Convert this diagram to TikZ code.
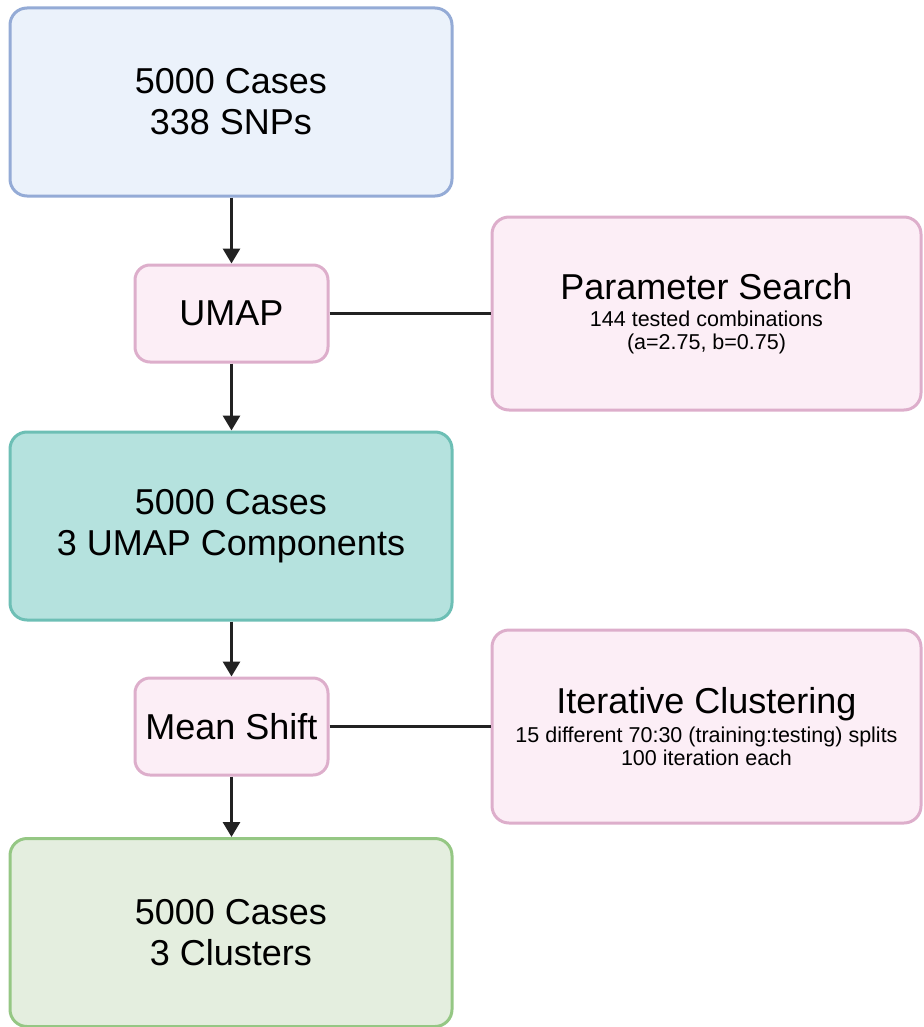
\documentclass[tikz,border=0pt]{standalone}
\usepackage{fontspec}
\setmainfont{Liberation Sans}
\usetikzlibrary{arrows.meta}
\definecolor{blueFill}{HTML}{EBF2FB}
\definecolor{blueLine}{HTML}{94ABD6}
\definecolor{pinkFill}{HTML}{FCEEF6}
\definecolor{pinkLine}{HTML}{DDAECB}
\definecolor{tealFill}{HTML}{B5E2DE}
\definecolor{tealLine}{HTML}{6DBFB5}
\definecolor{greenFill}{HTML}{E4EEDF}
\definecolor{greenLine}{HTML}{95C784}
\definecolor{wire}{HTML}{222222}
\newcommand{\boxtitle}[1]{{\fontsize{36}{36}\selectfont #1}}
\tikzset{
  box/.style={draw, line width=3pt, rounded corners=17pt, inner sep=0pt,
    align=center, font=\fontsize{36}{41}\selectfont},
  mainbox/.style={box, minimum width=442pt, minimum height=188pt},
  opbox/.style={box, fill=pinkFill, draw=pinkLine, minimum width=193pt, minimum height=97pt, rounded corners=15pt},
  sidebox/.style={box, fill=pinkFill, draw=pinkLine, minimum width=429pt, minimum height=193pt,
    font=\fontsize{21.5}{22.5}\selectfont},
  flow/.style={draw=wire, line width=3pt, -{Triangle[length=15pt,width=17pt]}},
  link/.style={draw=wire, line width=2.4pt}
}
\begin{document}
\begin{tikzpicture}[x=1pt,y=-1pt]
  \useasboundingbox (0,0) rectangle (923,1027);
  \node[mainbox, fill=blueFill, draw=blueLine] (in) at (231,102) {5000 Cases\\338 SNPs};
  \node[opbox] (umap) at (231.5,313.5) {UMAP};
  \node[sidebox] (ps) at (706.5,313.5) {\boxtitle{Parameter Search}\\[5pt]
    144 tested combinations\\(a=2.75, b=0.75)};
  \node[mainbox, fill=tealFill, draw=tealLine] (emb) at (231,526) {5000 Cases\\3 UMAP Components};
  \node[opbox] (ms) at (231.5,726.5) {Mean Shift};
  \node[sidebox] (ic) at (706.5,726.5) {\boxtitle{Iterative Clustering}\\[5pt]
    15 different 70:30 (training:testing) splits\\100 iteration each};
  \node[mainbox, fill=greenFill, draw=greenLine] (out) at (231,932.5) {5000 Cases\\3 Clusters};
  \draw[flow] (in.south -| umap.north) -- (umap.north);
  \draw[flow] (umap) -- (umap |- emb.north);
  \draw[flow] (emb.south -| ms.north) -- (ms.north);
  \draw[flow] (ms) -- (ms |- out.north);
  \draw[link] (umap.east) -- (ps.west);
  \draw[link] (ms.east) -- (ic.west);
\end{tikzpicture}
\end{document}
